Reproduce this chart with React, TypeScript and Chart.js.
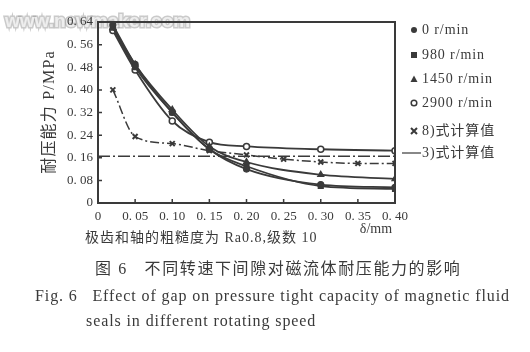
import React, { useEffect, useRef } from 'react';
import { Chart, registerables } from 'chart.js';
Chart.register(...registerables);

// ---- data ----
const gaps = [0.02, 0.05, 0.10, 0.15, 0.20, 0.30, 0.40];
const p0rpm = [0.63, 0.49, 0.32, 0.19, 0.12, 0.065, 0.055];
const p980rpm = [0.62, 0.48, 0.32, 0.19, 0.13, 0.06, 0.05];
const p1450rpm = [0.62, 0.49, 0.33, 0.20, 0.145, 0.10, 0.085];
const p2900rpm = [0.61, 0.47, 0.29, 0.215, 0.20, 0.19, 0.185];
const calc8Gaps = [0.02, 0.05, 0.10, 0.15, 0.20, 0.25, 0.30, 0.35, 0.40];
const calc8 = [0.40, 0.235, 0.21, 0.185, 0.17, 0.155, 0.145, 0.14, 0.14];
const calc3Gaps = [0, 0.40];
const calc3 = [0.165, 0.165];
const xTicks = [0, 0.05, 0.10, 0.15, 0.20, 0.25, 0.30, 0.35, 0.40];
const yTicks = [0, 0.08, 0.16, 0.24, 0.32, 0.40, 0.48, 0.56, 0.64];
const legendLabels = ['0 r/min', '980 r/min', '1450 r/min', '2900 r/min', '8)式计算值', '3)式计算值'];
const yTitle = '耐压能力 P/MPa';
const xNote = '极齿和轴的粗糙度为 Ra0.8,级数 10';
const xUnit = 'δ/mm';
const captionCn = '图 6   不同转速下间隙对磁流体耐压能力的影响';
const captionEn1 = 'Fig. 6   Effect of gap on pressure tight capacity of magnetic fluid';
const captionEn2 = 'seals in different rotating speed';
const watermark = 'www.newmaker.com';

const INK = '#3a3a3a';
const FONT = '"Liberation Serif", "Noto Sans CJK SC", serif';

const fmt = (v: number) => {
  const n = Math.round(v * 100);
  return n === 0 ? '0' : '0. ' + String(n).padStart(2, '0');
};

const toXY = (xs: number[], ys: number[]) => xs.map((x, i) => ({ x, y: ys[i] }));

function drawMarker(ctx: CanvasRenderingContext2D, kind: string, x: number, y: number) {
  ctx.save();
  ctx.fillStyle = INK;
  ctx.strokeStyle = INK;
  ctx.lineWidth = 1.5;
  ctx.beginPath();
  if (kind === 'dot') {
    ctx.arc(x, y, 3, 0, Math.PI * 2);
    ctx.fill();
  } else if (kind === 'square') {
    ctx.fillRect(x - 3, y - 3, 6, 6);
  } else if (kind === 'tri') {
    ctx.moveTo(x, y - 3.5);
    ctx.lineTo(x + 3.5, y + 3);
    ctx.lineTo(x - 3.5, y + 3);
    ctx.closePath();
    ctx.fill();
  } else if (kind === 'ring') {
    ctx.arc(x, y, 2.8, 0, Math.PI * 2);
    ctx.stroke();
  } else if (kind === 'cross') {
    ctx.lineWidth = 2;
    ctx.moveTo(x - 3, y - 3);
    ctx.lineTo(x + 3, y + 3);
    ctx.moveTo(x + 3, y - 3);
    ctx.lineTo(x - 3, y + 3);
    ctx.stroke();
  }
  ctx.restore();
}

function spaced(ctx: any, px: number) {
  try { ctx.letterSpacing = px + 'px'; } catch (e) { /* ignore */ }
}

const decor = {
  id: 'decor',
  beforeDraw(chart: any) {
    const ctx = chart.ctx;
    ctx.save();
    ctx.fillStyle = '#ffffff';
    ctx.fillRect(0, 0, chart.width, chart.height);
    // watermark (under everything)
    ctx.font = 'bold 19px "Liberation Sans", sans-serif';
    ctx.textAlign = 'left';
    ctx.textBaseline = 'middle';
    ctx.lineWidth = 3;
    ctx.strokeStyle = 'rgba(150,150,150,0.5)';
    ctx.strokeText(watermark, 5, 22);
    ctx.fillStyle = 'rgba(238,238,238,1)';
    ctx.fillText(watermark, 5, 22);
    ctx.restore();
  },
  afterDraw(chart: any) {
    const ctx: CanvasRenderingContext2D = chart.ctx;
    const { left, right, top, bottom } = chart.chartArea;
    const xs = chart.scales.x;
    const ys = chart.scales.y;
    ctx.save();
    // frame
    ctx.strokeStyle = INK;
    ctx.lineWidth = 2;
    ctx.strokeRect(left, top, right - left, bottom - top);
    // inward ticks
    ctx.lineWidth = 1.5;
    ctx.beginPath();
    xTicks.forEach((t) => {
      const px = xs.getPixelForValue(t);
      ctx.moveTo(px, bottom);
      ctx.lineTo(px, bottom - 4);
    });
    yTicks.forEach((t) => {
      const py = ys.getPixelForValue(t);
      ctx.moveTo(left, py);
      ctx.lineTo(left + 4, py);
    });
    ctx.stroke();

    ctx.fillStyle = INK;
    ctx.textBaseline = 'middle';
    // legend
    const kinds = ['dot', 'square', 'tri', 'ring', 'cross'];
    const ly = [30, 55, 79, 103, 131];
    ctx.font = '14px ' + FONT;
    spaced(ctx, 0.9);
    ctx.textAlign = 'left';
    kinds.forEach((k, i) => {
      drawMarker(ctx, k, 414, ly[i]);
      ctx.fillText(legendLabels[i], 422, ly[i]);
    });
    // 3) legend line
    ctx.lineWidth = 1.2;
    ctx.beginPath();
    ctx.moveTo(right + 7, 153);
    ctx.lineTo(421, 153);
    ctx.stroke();
    ctx.fillText(legendLabels[5], 422, 153);

    // y title (rotated)
    ctx.save();
    ctx.translate(50, 112);
    ctx.rotate(-Math.PI / 2);
    ctx.textAlign = 'center';
    spaced(ctx, 1.2);
    ctx.font = '16px ' + FONT;
    ctx.fillText(yTitle, 0, 0);
    ctx.restore();

    // x notes
    ctx.font = '14px ' + FONT;
    spaced(ctx, 1);
    ctx.textAlign = 'left';
    ctx.fillText(xNote, 85, 238);
    ctx.textAlign = 'center';
    spaced(ctx, 0);
    ctx.fillText(xUnit, 376, 229);

    // captions
    ctx.font = '16px ' + FONT;
    spaced(ctx, 1.6);
    ctx.textAlign = 'left';
    ctx.fillText(captionCn, 95, 270);
    spaced(ctx, 0.9);
    ctx.fillText(captionEn1, 35, 297);
    ctx.fillText(captionEn2, 86, 322);
    ctx.restore();
  },
};

export default function App() {
  const ref = useRef<HTMLCanvasElement | null>(null);
  useEffect(() => {
    document.body.style.margin = '0';
    const canvas = ref.current!;
    const lineBase = {
      borderColor: INK,
      borderWidth: 1.8,
      cubicInterpolationMode: 'monotone' as const,
      pointBorderColor: INK,
      pointBackgroundColor: INK,
      pointRadius: 3,
      pointBorderWidth: 1.2,
    };
    const chart = new Chart(canvas, {
      type: 'line',
      data: {
        datasets: [
          { ...lineBase, label: legendLabels[0], data: toXY(gaps, p0rpm), pointStyle: 'circle' },
          { ...lineBase, label: legendLabels[1], data: toXY(gaps, p980rpm), pointStyle: 'rect', pointRadius: 3.5 },
          { ...lineBase, label: legendLabels[2], data: toXY(gaps, p1450rpm), pointStyle: 'triangle', pointRadius: 3.5 },
          { ...lineBase, label: legendLabels[3], data: toXY(gaps, p2900rpm), pointStyle: 'circle', pointBackgroundColor: '#ffffff', pointBorderWidth: 1.5 },
          { ...lineBase, label: legendLabels[4], data: toXY(calc8Gaps, calc8), pointStyle: 'crossRot', pointRadius: 3.5, pointBorderWidth: 2, borderWidth: 1.5, borderDash: [9, 3, 2, 3] },
          { ...lineBase, label: legendLabels[5], data: toXY(calc3Gaps, calc3), pointRadius: 0, borderWidth: 1.5, borderDash: [12, 3, 2, 3] },
        ],
      },
      options: {
        responsive: false,
        animation: false,
        devicePixelRatio: 1,
        layout: { padding: { top: 22, right: 135, left: 0, bottom: 129 } },
        plugins: { legend: { display: false }, tooltip: { enabled: false } },
        scales: {
          x: {
            type: 'linear',
            min: 0,
            max: 0.4,
            afterBuildTicks: (s: any) => { s.ticks = xTicks.map((v) => ({ value: v })); },
            afterFit: (s: any) => { s.height = 20; },
            grid: { display: false, drawTicks: false },
            border: { display: false },
            ticks: { callback: (v: any) => fmt(Number(v)), color: INK, font: { family: FONT, size: 13 }, padding: 6, maxRotation: 0, autoSkip: false },
          },
          y: {
            type: 'linear',
            min: 0,
            max: 0.64,
            afterBuildTicks: (s: any) => { s.ticks = yTicks.map((v) => ({ value: v })); },
            afterFit: (s: any) => { s.width = 98; },
            grid: { display: false, drawTicks: false },
            border: { display: false },
            ticks: { callback: (v: any) => fmt(Number(v)), color: INK, font: { family: FONT, size: 13 }, padding: 5, autoSkip: false },
          },
        },
      },
      plugins: [decor],
    });
    return () => chart.destroy();
  }, []);
  return <canvas ref={ref} width={530} height={352} style={{ display: 'block' }} />;
}
